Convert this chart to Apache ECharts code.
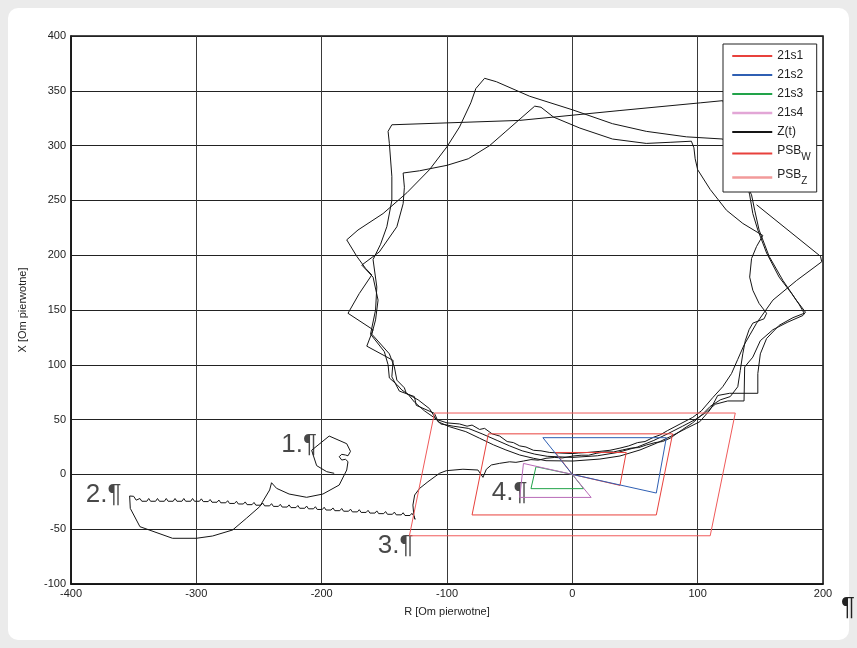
<!DOCTYPE html>
<html>
<head>
<meta charset="utf-8">
<title>Z(t)</title>
<script src="https://cdn.jsdelivr.net/npm/echarts/dist/echarts.min.js"></script>
<style>
    body { margin: 0; background: #ebebeb; }
    #main { width: 857px; height: 648px; }
</style>
</head>
<body>
<div id="main"></div>
<script>
// characteristic zones [R, X]
var s21_1 = [[0, 0], [-13.5, 20], [43, 20], [38, -10], [0, 0]];
var s21_2 = [[0, 0], [-23.5, 33.5], [75, 33.5], [67, -17], [0, 0]];
var s21_3 = [[0, 0], [-29, 7], [-33, -13], [9, -13], [0, 0]];
var s21_4 = [[0, 0], [-39, 10], [-42, -21], [15, -21], [0, 0]];
var psbW = [[-67, 37], [80, 37], [67, -37], [-80, -37], [-67, 37]];
var psbZ = [[-110, 56], [130, 56], [110, -56], [-130, -56], [-110, 56]];

// impedance trajectory Z(t)
var trajectory = [
    [-190, 1], [-196, 2.5], [-204, 8], [-208, 22], [-194, 35], [-180, 28], [-177, 21], [-179, 17],
    [-181, 17.7], [-184, 18.3], [-186, 16.2], [-184, 13.1], [-181, 13.8], [-179, 11.6], [-180, 4],
    [-186, -9.7], [-199, -17.9], [-212, -20.9], [-226, -17.9], [-236, -12.7], [-240, -7.6],
    [-241.5, -14.2], [-249.5, -29.5], [-260, -40], [-271, -50.7], [-287, -56.2], [-300, -58.3],
    [-319, -58.3], [-345, -47.7], [-352.7, -31], [-353.2, -19.7], [-350, -20], [-348, -23.5],
    [-345, -22], [-343.5, -24.5], [-339.5, -24.5], [-338, -22], [-336.5, -24.5], [-332.5, -24.5],
    [-331, -22], [-329.5, -24.5], [-325.5, -24.5], [-324, -22], [-322.5, -24.5], [-318.5, -24.5],
    [-317, -22], [-315.5, -24.5], [-311.5, -24.5], [-310, -22], [-308.5, -24.5], [-304.5, -24.5],
    [-303, -22], [-301.5, -24.5], [-297.5, -24.5], [-296, -22.3], [-294.5, -24.8], [-290.5, -24.8],
    [-289, -22.9], [-287.5, -25.4], [-283.5, -25.4], [-282, -23.4], [-280.5, -25.9], [-276.5, -25.9],
    [-275, -24], [-273.5, -26.5], [-269.5, -26.5], [-268, -24.5], [-266.5, -27], [-262.5, -27],
    [-261, -25.1], [-259.5, -27.6], [-255.5, -27.6], [-254, -25.6], [-252.5, -28.1], [-248.5, -28.1],
    [-247, -26.2], [-245.5, -28.7], [-241.5, -28.7], [-240, -26.7], [-238.5, -29.2], [-234.5, -29.2],
    [-233, -27.3], [-231.5, -29.8], [-227.5, -29.8], [-226, -27.8], [-224.5, -30.3], [-220.5, -30.3],
    [-219, -28.4], [-217.5, -30.9], [-213.5, -30.9], [-212, -28.9], [-210.5, -31.4], [-206.5, -31.4],
    [-205, -29.5], [-203.5, -32], [-199.5, -32], [-198, -30], [-196.5, -32.5], [-192.5, -32.5],
    [-191, -30.6], [-189.5, -33.1], [-185.5, -33.1], [-184, -31.1], [-182.5, -33.6], [-178.5, -33.6],
    [-177, -31.7], [-175.5, -34.2], [-171.5, -34.2], [-170, -32.2], [-168.5, -34.7], [-164.5, -34.7],
    [-163, -32.8], [-161.5, -35.3], [-157.5, -35.3], [-156, -33.3], [-154.5, -35.8], [-150.5, -35.8],
    [-149, -33.9], [-147.5, -36.4], [-143.5, -36.4], [-142, -34.4], [-140.5, -36.9], [-136.5, -36.9],
    [-135, -35], [-133.5, -37.5], [-129.5, -37.5], [-128, -35.5],
    [-126.5, -38], [-125.5, -41], [-126.5, -37], [-127.2, -28], [-125.8, -18.8], [-121.8, -12.7],
    [-115.2, -6.7], [-106, 1], [-100.5, 3.4], [-87.3, 4.7], [-75.3, 4], [-72.6, -0.5], [-71.3, -2.7],
    [-68.6, 4.7], [-64.6, 8.6], [-58, 10.1],
    [-50, 11.5], [-45, 11], [-39, 12.2], [-33, 13.5], [-27, 13], [-21, 14.7], [-14, 15.5], [-8, 15],
    [0.5, 16.8], [7, 17.5], [13, 17.5], [19, 19.2], [26, 20.5], [33, 20.5], [40, 22.3], [47, 24],
    [53, 24.5], [59, 26.8], [66, 29], [72, 30], [78, 33],
    [88, 41], [96, 47], [103, 54], [110, 62], [118, 68], [126, 71], [132, 80], [134, 95], [136, 110],
    [138, 122], [141, 132], [144, 138], [153, 142], [155, 147],
    [149, 156], [144, 168], [141.5, 180], [143, 197], [147, 208], [152, 218], [149, 220], [136, 229],
    [123, 241], [110, 260], [100, 278], [98, 288], [97, 298], [95, 304],
    [78, 303], [59, 302], [32, 306], [6, 316], [-15, 326], [-25, 335], [-30, 336],
    [-41, 325], [-53, 313], [-66, 300], [-83, 288], [-100, 282], [-122, 277], [-135, 275], [-134, 262],
    [-135, 247], [-140, 226], [-154, 203], [-168, 191], [-159, 180], [-155, 159], [-157, 141],
    [-160, 128], [-146, 110], [-142, 98], [-140, 86], [-134, 79], [-132.5, 74], [-123, 68], [-114, 60],
    [-108.5, 50],
    [-105, 46], [-95, 44], [-83, 42], [-72, 37], [-60, 31], [-50, 26], [-40, 21.5], [-30, 18.5],
    [-20, 16.5], [0, 15.5], [20, 17], [36, 20], [52, 25], [65, 31], [76, 37], [88, 44], [98, 50],
    [106, 56],
    [114, 64], [124, 67], [137, 67], [137.5, 98], [144, 107], [150, 122], [160, 132], [172, 139],
    [184, 145], [186, 148],
    [178.7, 159], [168, 177], [157, 199], [149, 223], [145.5, 241], [143, 255], [128, 290], [120, 306],
    [91, 308], [59, 313], [32, 320], [0.5, 332.5], [-34, 345], [-60.6, 358.3], [-70, 361.4],
    [-77, 352], [-81, 339], [-90, 317], [-100, 299], [-114, 278], [-132, 257], [-151, 238], [-171, 223],
    [-180, 214], [-172, 199], [-165, 188], [-160, 182], [-170, 165], [-179, 147], [-159, 132],
    [-164, 117], [-143, 104], [-144, 89], [-138, 76], [-126, 71], [-124.5, 63], [-110, 55.7],
    [-107, 48], [-98, 43.5], [-85, 39], [-74, 33], [-63, 27], [-53, 22.3], [-42, 17.7], [-31, 14.7],
    [-21, 12.5], [0.5, 12.2], [22, 14], [38, 16.8], [54, 22.3], [67, 28.4], [78, 34.4], [91, 42],
    [101.6, 48], [110, 59],
    [116, 72], [125.5, 74], [148, 74], [148, 92], [150, 110], [155, 124], [165, 136], [176, 143],
    [185, 147], [181, 155],
    [175, 165], [165, 180], [155, 202], [148, 223], [144, 238], [141.5, 255], [130, 310], [120, 341],
    [102, 339], [38, 332], [-42, 323], [-144, 319], [-147, 313],
    [-146, 302], [-144, 272], [-144, 250], [-148, 226], [-153, 210], [-159, 196], [-156, 171],
    [-157, 150], [-161, 128], [-150, 112], [-147, 100], [-146, 88], [-140, 82], [-136, 77], [-131, 73],
    [-126, 66], [-118, 58], [-108, 50],
    [-100, 47], [-90, 46], [-84, 44], [-80, 45], [-74, 41], [-70, 42], [-64, 37], [-58, 35], [-52, 30],
    [-47, 29], [-42, 26], [-37, 25], [-31, 22], [-25, 21.5], [-18, 20], [-10, 19.5], [0, 19], [5, 19.5],
    [12, 20], [22, 21], [30, 22], [38, 24], [45, 26], [52, 29], [58, 30], [65, 34], [70, 36], [76, 40],
    [86, 46], [96, 52],
    [103, 58], [112, 70], [120, 80], [127, 92], [132, 105], [137, 118], [142, 128], [147, 138],
    [160, 159], [179, 177], [199, 194], [198, 199], [147, 246]
];

// text marks in the plot
var noteText = ['1.¶', '2.¶', '3.¶', '4.¶'];
var noteR = [-218, -374, -141, -50];
var noteX = [27, -18.6, -65, -17];

var chart = echarts.init(document.getElementById('main'));

function poly(name, data, color, width) {
    return {
        name: name,
        type: 'line',
        data: data,
        symbol: 'none',
        animation: false,
        lineStyle: { color: color, width: width },
        itemStyle: { color: color }
    };
}

var notes = [];
for (var i = 0; i < noteText.length; i++) {
    notes.push([noteR[i], noteX[i], noteText[i]]);
}

var font = 'Liberation Sans, Arial, sans-serif';

chart.setOption({
    backgroundColor: '#ebebeb',
    textStyle: { fontFamily: font },
    grid: {
        left: 71,
        right: 34,
        top: 36,
        bottom: 64,
        show: true,
        borderColor: '#111',
        borderWidth: 1.5,
        backgroundColor: '#fff'
    },
    legend: {
        orient: 'vertical',
        left: 723,
        top: 44,
        backgroundColor: '#fff',
        borderColor: '#222',
        borderWidth: 1,
        borderRadius: 0,
        padding: [6, 6, 6, 8],
        itemWidth: 40,
        itemHeight: 12,
        itemGap: 7,
        itemStyle: { opacity: 0 },
        textStyle: {
            fontSize: 12,
            color: '#222',
            fontFamily: font,
            rich: {
                m: { fontSize: 12, color: '#222', padding: [0, 0, 5, 0], verticalAlign: 'bottom' },
                s: { fontSize: 10, color: '#222', verticalAlign: 'bottom' }
            }
        },
        formatter: function (name) {
            if (name === 'PSB_W') return '{m|PSB}{s|W}';
            if (name === 'PSB_Z') return '{m|PSB}{s|Z}';
            return name;
        },
        data: [
            { name: '21s1' },
            { name: '21s2' },
            { name: '21s3' },
            { name: '21s4', lineStyle: { color: '#e2a6d6', width: 2.5 } },
            { name: 'Z(t)' },
            { name: 'PSB_W' },
            { name: 'PSB_Z', lineStyle: { color: '#f29a9a', width: 2.5 } }
        ]
    },
    xAxis: {
        type: 'value',
        min: -400,
        max: 200,
        interval: 100,
        name: 'R [Om pierwotne]',
        nameLocation: 'middle',
        nameGap: 22,
        nameTextStyle: { fontSize: 11, color: '#222', fontFamily: font },
        axisLine: { onZero: false, lineStyle: { color: '#111', width: 1.5 } },
        axisTick: { show: false },
        axisLabel: { fontSize: 11, color: '#222', margin: 4, fontFamily: font },
        splitLine: { lineStyle: { color: '#3a3a3a', width: 1 } }
    },
    yAxis: {
        type: 'value',
        min: -100,
        max: 400,
        interval: 50,
        name: 'X [Om pierwotne]',
        nameLocation: 'middle',
        nameGap: 43,
        nameTextStyle: { fontSize: 11, color: '#222', fontFamily: font },
        axisLine: { onZero: false, lineStyle: { color: '#111', width: 1.5 } },
        axisTick: { show: false },
        axisLabel: { fontSize: 11, color: '#222', margin: 5, fontFamily: font },
        splitLine: { lineStyle: { color: '#222', width: 1 } }
    },
    graphic: [{
        type: 'rect',
        z: -10,
        silent: true,
        shape: { x: 8, y: 8, width: 841, height: 632, r: 10 },
        style: { fill: '#fff' }
    }, {
        type: 'text',
        z: 100,
        left: 841,
        top: 595,
        style: { text: '¶', fontSize: 26, fill: '#222', fontFamily: font }
    }],
    series: [
        poly('Z(t)', trajectory, '#151515', 1),
        poly('PSB_Z', psbZ, '#f05a5a', 1),
        poly('PSB_W', psbW, '#e8413c', 1),
        poly('21s1', s21_1, '#e8413c', 1),
        poly('21s2', s21_2, '#2f5fb3', 1),
        poly('21s3', s21_3, '#22a34a', 1),
        poly('21s4', s21_4, '#b86bb8', 1),
        {
            name: 'notes',
            type: 'scatter',
            data: notes,
            symbolSize: 1,
            silent: true,
            animation: false,
            itemStyle: { color: 'rgba(0,0,0,0)' },
            label: {
                show: true,
                position: 'inside',
                formatter: function (p) { return p.value[2]; },
                fontSize: 26,
                color: '#1a1a1a',
                fontFamily: font
            }
        }
    ]
});
</script>
</body>
</html>
